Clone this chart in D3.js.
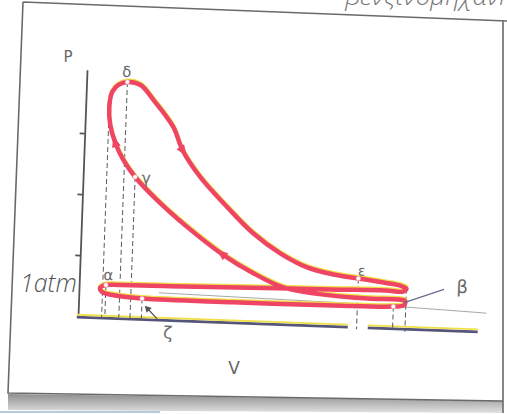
<!DOCTYPE html>
<html><head><meta charset="utf-8">
<script src="https://cdn.jsdelivr.net/npm/d3@7"></script>
<style>body{margin:0;background:#fff}svg{display:block}</style>
</head><body>
<svg id="c" width="507" height="414"></svg>
<script>
// ---- data (V, P in arbitrary diagram units) ----
const loopV = [10.2,13.5,16.9,22.1,24.6,29.3,36.3,43.0,49.95,56.8,63.4,69.7,76.0,80.2,81.8,81.0,76.5,62.8,42.75,22.7,10.2,6.7,5.25,5.8,9.07,15.85,38.6,63.7,78.7,81.4,81.6,79.85,72.1,59.55,51.0,43.4,35.5,26.5,18.7,13.0,9.9,7.74,6.3,5.9,6.5,8.0];
const loopP = [19.32,19.11,17.92,15.76,13.9,11.74,9.36,7.30,5.74,4.67,4.17,3.92,3.66,3.46,3.23,2.98,3.01,2.93,2.83,2.72,2.66,2.62,2.36,2.04,1.79,1.62,1.59,1.63,1.72,1.87,2.21,2.31,2.30,2.53,2.96,4.03,5.49,7.61,9.73,11.56,12.92,14.29,15.75,17.22,18.46,19.05];
const pointNames = ["δ","ε","α","ζ","β","γ"];
const pointIndex = [0,11,21,25,28,39];
const arrowIndex = [4,36,41];
const dropV = [5.9,10.2,13.0,6.7,15.85,69.7,78.7,81.8];
const dropP = [17.22,19.32,11.56,2.62,1.62,3.92,1.72,3.23];
const dropEnd = [0,0,0,0,0,-0.25,-0.25,-0.3];
const atmV = [20,45,80,102];
const atmP = [2.15,2.0,1.75,1.45];
const pTicks = [5,10,15];
const vAxisFrom = [-0.3,72.5];
const vAxisTo = [67.5,100];

const svg = d3.select("#c");
const RED = "#ef4565", YEL = "#efe04a";

// frame + shadow (paper)
const defs = svg.append("defs");
const gr = defs.append("linearGradient").attr("id","sh").attr("x1",0).attr("y1",0).attr("x2",0).attr("y2",1);
gr.append("stop").attr("offset",0).attr("stop-color","#8f8f8f");
gr.append("stop").attr("offset",1).attr("stop-color","#e2e2e2");
svg.append("polygon").attr("points","8,394 503,401 503,413 8,410").attr("fill","url(#sh)");
svg.append("line").attr("x1",0).attr("y1",412).attr("x2",160).attr("y2",412).attr("stroke","#9fb8d6").attr("stroke-width",1.5);
svg.append("path").attr("d","M23,2 L507,21 M23,2 L8,393 L503,401 M503,20 L503,413")
  .attr("fill","none").attr("stroke","#6a6a6a").attr("stroke-width",1.6);

// top clipped handwriting (cut at the page edge, as in the scan)
svg.append("text").attr("x",514).attr("y",5).attr("text-anchor","end")
  .attr("font-family","Open Sans").attr("font-style","italic").attr("font-weight",300)
  .attr("font-size",26).attr("fill","#777").text("βενζινομηχανή");

const g = svg.append("g").attr("transform","translate(78,316) rotate(2.1)");
const x = d3.scaleLinear().domain([0,100]).range([0,400]);
const y = d3.scaleLinear().domain([0,20.2]).range([0,-246.4]);

// y axis
const ya = g.append("g").call(d3.axisLeft(y).tickValues(pTicks).tickSize(5).tickSizeOuter(0).tickFormat(""));
ya.selectAll("path,line").attr("stroke","#555").attr("stroke-width",1.8);

// x axis (two segments, yellow over slate)
vAxisFrom.forEach((v0,i)=>{
  g.append("line").attr("x1",x(v0)).attr("x2",x(vAxisTo[i])).attr("y1",y(0)+1.2).attr("y2",y(0)+1.2)
    .attr("stroke","#55557a").attr("stroke-width",2.6);
  g.append("line").attr("x1",x(v0)).attr("x2",x(vAxisTo[i])).attr("y1",y(0)-1.2).attr("y2",y(0)-1.2)
    .attr("stroke",YEL).attr("stroke-width",1.8);
});

// atm line
g.append("path").datum(atmV.map((v,i)=>[v,atmP[i]]))
  .attr("d",d3.line().x(d=>x(d[0])).y(d=>y(d[1])).curve(d3.curveMonotoneX))
  .attr("fill","none").attr("stroke","#a8a8a8").attr("stroke-width",1);

// dashed drop lines
dropV.forEach((v,i)=>{
  g.append("line").attr("x1",x(v)).attr("x2",x(v)).attr("y1",y(dropP[i])).attr("y2",y(dropEnd[i]))
    .attr("stroke","#5a5a5a").attr("stroke-width",1).attr("stroke-dasharray","5,3");
});

// loop
const pts = loopV.map((v,i)=>[x(v),y(loopP[i])]);
const line = d3.line().curve(d3.curveCatmullRomClosed.alpha(0.5));
g.append("path").attr("d",line(pts)).attr("fill","none").attr("stroke",YEL)
  .attr("stroke-width",4).attr("transform","translate(0,-1.5)");
g.append("path").attr("d",line(pts)).attr("fill","none").attr("stroke",RED).attr("stroke-width",4.5);

// arrowheads
arrowIndex.forEach(i=>{
  const p = pts[i], q = pts[(i+1)%pts.length];
  const a = Math.atan2(q[1]-p[1], q[0]-p[0])*180/Math.PI;
  g.append("path").attr("d","M7,0 L-4,-4.5 L-4,4.5 Z").attr("fill",RED)
    .attr("transform",`translate(${p[0]},${p[1]}) rotate(${a})`);
});

// markers + labels
const lab = {"δ":[-1,-5,15],"ε":[3,-3,14],"α":[2,-5,15],"ζ":[27,39,17],"β":[68,-16,18],"γ":[11,6,16]};
pointIndex.forEach((idx,k)=>{
  const p = pts[idx];
  g.append("circle").attr("cx",p[0]).attr("cy",p[1]).attr("r",2.2).attr("fill","#fff").attr("stroke","#f7a0b0").attr("stroke-width",0.6);
  const o = lab[pointNames[k]];
  g.append("text").attr("x",p[0]+o[0]).attr("y",p[1]+o[1]).attr("text-anchor","middle")
    .attr("font-family","DejaVu Sans").attr("font-size",o[2]).attr("fill","#6a6a6a").text(pointNames[k]);
});
// pointer lines for β and ζ
const pb = pts[pointIndex[4]], pz = pts[pointIndex[3]];
g.append("line").attr("x1",pb[0]+10).attr("y1",pb[1]-4).attr("x2",pb[0]+50).attr("y2",pb[1]-19)
  .attr("stroke","#6a6a90").attr("stroke-width",1.3);
g.append("line").attr("x1",pz[0]+16).attr("y1",pz[1]+20).attr("x2",pz[0]+5).attr("y2",pz[1]+9)
  .attr("stroke","#555").attr("stroke-width",1.3);
g.append("path").attr("d","M0,0 L7,2 L2,7 Z").attr("fill","#555")
  .attr("transform",`translate(${pz[0]+3},${pz[1]+7})`);

// axis titles
svg.append("text").attr("x",68).attr("y",62).attr("text-anchor","middle").attr("font-family","DejaVu Sans")
  .attr("font-size",15).attr("fill","#666").text("P");
svg.append("text").attr("x",234).attr("y",374).attr("text-anchor","middle").attr("font-family","DejaVu Sans")
  .attr("font-size",17).attr("fill","#666").text("V");
svg.append("text").attr("x",20).attr("y",292).attr("font-family","Open Sans").attr("font-style","italic")
  .attr("font-weight",300).attr("font-size",25).attr("fill","#555").text("1atm");
</script>
</body></html>
